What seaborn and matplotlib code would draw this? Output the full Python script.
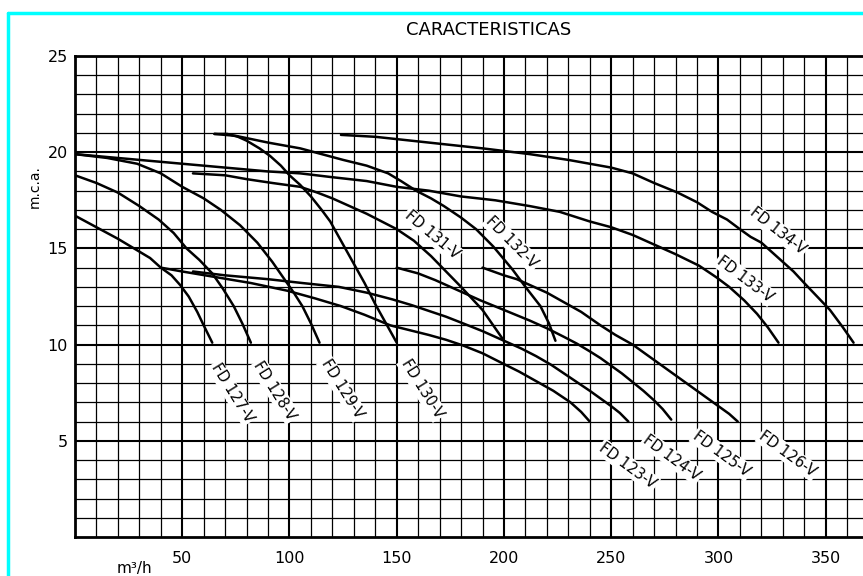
import numpy as np
import pandas as pd
import seaborn as sns
import matplotlib.pyplot as plt
from matplotlib.lines import Line2D

# caudal (m3/h) y altura (m.c.a.)
q_fd123 = [40, 50, 66, 82, 99, 112, 124, 135, 147, 156, 165, 173, 181, 190, 198, 207, 215, 223, 231, 236, 240]
h_fd123 = [14.0, 13.8, 13.5, 13.2, 12.8, 12.4, 12.0, 11.55, 11.0, 10.75, 10.5, 10.25, 9.95, 9.55, 9.1, 8.6, 8.1, 7.6, 7.0, 6.5, 6.0]
q_fd124 = [55, 70, 90, 106, 123, 136, 148, 157, 165, 173, 181, 190, 200, 208, 215, 222, 228, 234, 240, 245, 250, 254, 258]
h_fd124 = [13.8, 13.6, 13.4, 13.2, 13.0, 12.7, 12.35, 12.05, 11.75, 11.45, 11.1, 10.7, 10.2, 9.8, 9.4, 8.95, 8.5, 8.05, 7.6, 7.2, 6.8, 6.45, 6.0]
q_fd125 = [150, 160, 168, 175, 182, 189, 200, 212, 220, 228, 234, 240, 245, 250, 255, 260, 265, 270, 274, 278]
h_fd125 = [14.0, 13.7, 13.35, 13.0, 12.65, 12.3, 11.8, 11.25, 10.85, 10.4, 10.05, 9.65, 9.3, 8.9, 8.5, 8.05, 7.6, 7.1, 6.65, 6.1]
q_fd126 = [190, 195, 200, 206, 212, 220, 228, 236, 245, 252, 260, 265, 270, 275, 280, 285, 290, 295, 300, 305, 309]
h_fd126 = [14.0, 13.8, 13.6, 13.4, 13.1, 12.7, 12.2, 11.7, 11.0, 10.5, 10.0, 9.6, 9.2, 8.8, 8.4, 8.0, 7.6, 7.2, 6.8, 6.4, 6.0]
q_fd127 = [0, 10, 20, 29, 35, 40, 45, 49, 53, 57, 60, 64]
h_fd127 = [16.7, 16.1, 15.5, 14.9, 14.5, 14.0, 13.6, 13.1, 12.5, 11.7, 11.0, 10.1]
q_fd128 = [0, 10, 20, 30, 39, 46, 52, 58, 64, 69, 74, 78, 82]
h_fd128 = [18.8, 18.4, 17.9, 17.2, 16.5, 15.8, 15.0, 14.4, 13.7, 12.9, 12.0, 11.1, 10.1]
q_fd129 = [0, 15, 29, 40, 50, 60, 68, 77, 85, 92, 97, 102, 106, 110, 114]
h_fd129 = [19.9, 19.7, 19.4, 18.9, 18.2, 17.6, 17.0, 16.2, 15.3, 14.3, 13.5, 12.7, 12.0, 11.1, 10.1]
q_fd130 = [65, 71, 76, 80, 86, 91, 96, 100, 105, 110, 115, 119, 125, 130, 135, 140, 145, 150]
h_fd130 = [20.95, 20.95, 20.8, 20.6, 20.2, 19.8, 19.3, 18.8, 18.3, 17.7, 17.0, 16.4, 15.2, 14.2, 13.2, 12.1, 11.1, 10.1]
q_fd131 = [55, 70, 80, 92, 105, 113, 120, 128, 136, 143, 150, 158, 166, 173, 180, 185, 190, 195, 200]
h_fd131 = [18.9, 18.8, 18.6, 18.4, 18.2, 17.9, 17.6, 17.2, 16.8, 16.4, 16.0, 15.4, 14.6, 13.8, 13.0, 12.4, 11.8, 11.0, 10.2]
q_fd132 = [65, 75, 90, 105, 115, 125, 136, 146, 152, 159, 166, 172, 180, 187, 195, 204, 210, 217, 221, 224]
h_fd132 = [20.95, 20.85, 20.5, 20.2, 19.9, 19.6, 19.3, 18.9, 18.5, 18.0, 17.6, 17.2, 16.6, 16.0, 15.1, 13.9, 13.0, 12.0, 11.1, 10.2]
q_fd133 = [0, 30, 60, 90, 105, 120, 136, 150, 165, 180, 196, 212, 226, 240, 250, 260, 270, 280, 291, 299, 305, 312, 318, 323, 328]
h_fd133 = [19.9, 19.6, 19.3, 19.0, 18.9, 18.7, 18.5, 18.2, 18.0, 17.7, 17.5, 17.2, 16.9, 16.4, 16.1, 15.7, 15.2, 14.7, 14.1, 13.5, 13.0, 12.3, 11.6, 10.9, 10.1]
q_fd134 = [124, 140, 165, 190, 212, 230, 240, 250, 260, 270, 281, 290, 297, 304, 310, 315, 320, 325, 330, 335, 340, 346, 352, 358, 363]
h_fd134 = [20.9, 20.8, 20.5, 20.2, 19.9, 19.6, 19.4, 19.2, 18.9, 18.4, 17.9, 17.4, 16.9, 16.5, 16.0, 15.6, 15.3, 14.8, 14.3, 13.8, 13.2, 12.5, 11.8, 10.9, 10.1]

models = ["FD 123-V", "FD 124-V", "FD 125-V", "FD 126-V", "FD 127-V", "FD 128-V",
          "FD 129-V", "FD 130-V", "FD 131-V", "FD 132-V", "FD 133-V", "FD 134-V"]
q_all = [q_fd123, q_fd124, q_fd125, q_fd126, q_fd127, q_fd128,
         q_fd129, q_fd130, q_fd131, q_fd132, q_fd133, q_fd134]
h_all = [h_fd123, h_fd124, h_fd125, h_fd126, h_fd127, h_fd128,
         h_fd129, h_fd130, h_fd131, h_fd132, h_fd133, h_fd134]

x_ticks = [50, 100, 150, 200, 250, 300, 350]
y_ticks = [5, 10, 15, 20, 25]

# donde va cada etiqueta (posicion y giro)
label_pos = {
    "FD 123-V": (257.8, 3.7, -36), "FD 124-V": (278.3, 4.1, -36),
    "FD 125-V": (301.6, 4.3, -36), "FD 126-V": (332.4, 4.3, -36),
    "FD 127-V": (73.2, 7.5, -58), "FD 128-V": (93.2, 7.6, -58),
    "FD 129-V": (124.5, 7.7, -58), "FD 130-V": (161.8, 7.7, -58),
    "FD 131-V": (166.4, 15.7, -40), "FD 132-V": (203.7, 15.3, -45),
    "FD 133-V": (312.4, 13.4, -37), "FD 134-V": (327.7, 15.9, -38),
}

rows = []
for m, qs, hs in zip(models, q_all, h_all):
    for q, h in zip(qs, hs):
        rows.append((m, q, h))
df = pd.DataFrame(rows, columns=["model", "q", "h"])

sns.set_style("white")
plt.rcParams['font.family'] = ['DejaVu Sans']
plt.rcParams['text.color'] = 'black'
plt.rcParams['xtick.color'] = 'black'
plt.rcParams['ytick.color'] = 'black'

fig = plt.figure(figsize=(8.63, 5.76), dpi=100)
ax = fig.add_axes([75/863, 39/576, 788/863, 481/576])

sns.lineplot(data=df, x="q", y="h", units="model", estimator=None, sort=False,
             color="black", lw=1.8, ax=ax, zorder=3)

ax.set_xlim(0, 367.4)
ax.set_ylim(0, 25)
ax.set_xticks(x_ticks)
ax.set_xticks(np.arange(10, 367, 10), minor=True)
ax.set_yticks(y_ticks)
ax.set_yticks(np.arange(1, 25, 1), minor=True)
ax.grid(which="major", color="black", lw=1.5)
ax.grid(which="minor", color="black", lw=0.9)
ax.set_axisbelow(True)
ax.tick_params(which="both", length=0)
ax.tick_params(axis="x", pad=10, labelsize=11.5)
ax.tick_params(axis="y", pad=5, labelsize=11.5)
ax.set_xlabel("")
ax.set_ylabel("")
for s in ["left", "bottom", "top"]:
    ax.spines[s].set_color("black")
    ax.spines[s].set_linewidth(2)
ax.spines["right"].set_visible(False)

for m in models:
    x, y, r = label_pos[m]
    ax.text(x, y, m, rotation=r, rotation_mode="anchor", ha="center", va="center",
            fontsize=10.5, color="black", zorder=4,
            bbox=dict(fc="white", ec="none", pad=1))

fig.text(489/863, 1 - 30/576, "CARACTERISTICAS", ha="center", va="center", fontsize=13)
fig.text(35/863, 1 - 187/576, "m.c.a.", rotation=90, ha="center", va="center", fontsize=10)
fig.text(134/863, 1 - 569/576, "m³/h", ha="center", va="center", fontsize=11)

# marco cian
fig.add_artist(Line2D([8/863, 8/863], [0, 1 - 13/576], color="#00ffff", lw=2.5))
fig.add_artist(Line2D([8/863, 1], [1 - 13/576, 1 - 13/576], color="#00ffff", lw=2.5))

fig.savefig("out.png", dpi=100)
